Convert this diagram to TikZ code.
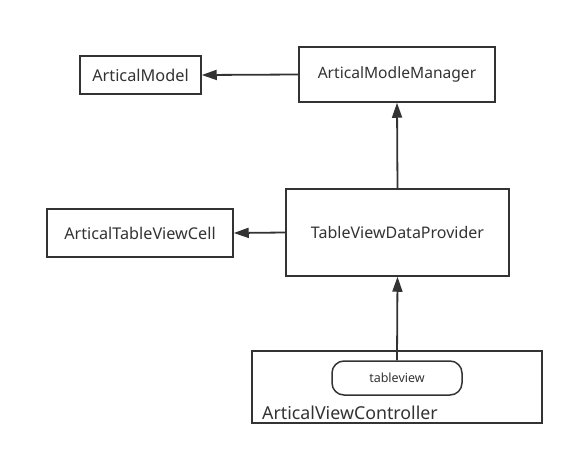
\documentclass[tikz,border=0pt]{standalone}
\usepackage{fontspec}
\setmainfont{Noto Sans}
\usetikzlibrary{arrows.meta}
\definecolor{ink}{HTML}{333333}
\begin{document}
\begin{tikzpicture}[x=1pt,y=-1pt,
  box/.style={draw=ink,line width=1.5pt,inner sep=0pt,text=ink},
  conn/.style={draw=ink,line width=1.8pt,-{Triangle[length=15pt,width=10pt]}}]
\useasboundingbox (0,0) rectangle (574,456);
\node[box,minimum width=121pt,minimum height=38pt,font=\fontsize{16.3}{18}\selectfont] (model) at (140.5,75) {ArticalModel};
\node[box,minimum width=196pt,minimum height=55pt,font=\fontsize{15.6}{18}\selectfont] (mgr) at (397,74.5) {ArticalModleManager};
\node[box,minimum width=186pt,minimum height=48pt,font=\fontsize{16.2}{18}\selectfont] (cell) at (140,233) {ArticalTableViewCell};
\node[box,minimum width=223pt,minimum height=87pt,font=\fontsize{16}{18}\selectfont] (prov) at (397.5,232.5) {TableViewDataProvider};
\node[box,minimum width=290pt,minimum height=72pt] (vc) at (397,387) {};
\node[box,rounded corners=12pt,minimum width=130pt,minimum height=34pt,font=\fontsize{12.5}{15}\selectfont] (tv) at (397,378) {tableview};
\node[anchor=base west,inner sep=0pt,text=ink,font=\fontsize{17.8}{20}\selectfont] (vclabel) at (262,419) {ArticalViewController};
\draw[conn] (mgr.west) -- (model.east);
\draw[conn] (prov.north) -- (mgr.south);
\draw[conn] (prov.west) -- (cell.east);
\draw[conn] (tv.north) -- (prov.south);
\end{tikzpicture}
\end{document}
